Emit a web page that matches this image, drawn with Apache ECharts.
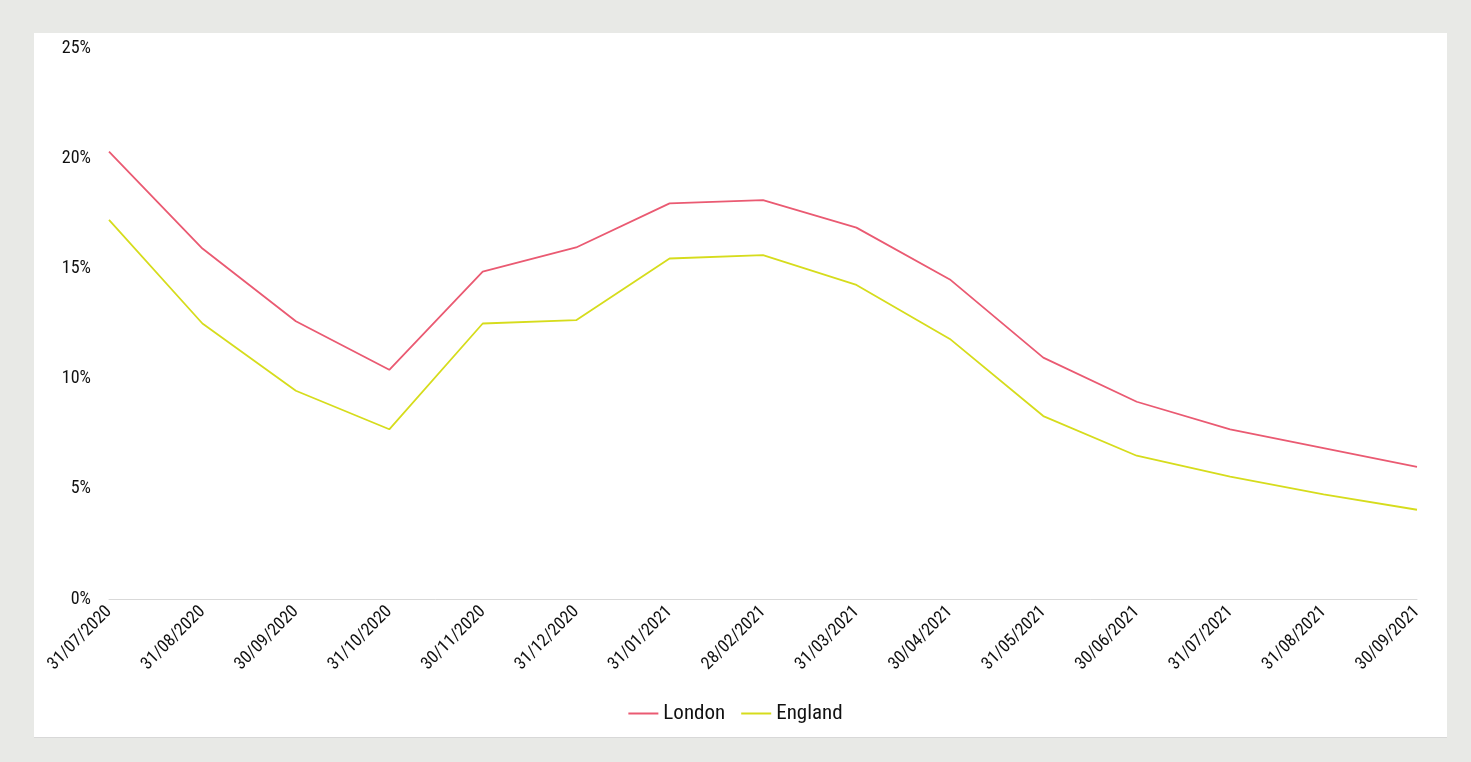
<!DOCTYPE html>
<html><head><meta charset="utf-8">
<script src="https://cdn.jsdelivr.net/npm/echarts@6/dist/echarts.min.js"></script>
<style>
html,body{margin:0;padding:0;background:#e8e9e6;width:1471px;height:762px;overflow:hidden}
#panel{position:absolute;left:34px;top:33px;width:1413px;height:704px;background:#fff;border-bottom:1px solid #d8d8d8}
#c{position:absolute;left:0;top:0;width:1471px;height:762px}
</style></head><body>
<div id="panel"></div>
<div id="c"></div>
<script>
const categories = ["31/07/2020","31/08/2020","30/09/2020","31/10/2020","30/11/2020","31/12/2020","31/01/2021","28/02/2021","31/03/2021","30/04/2021","31/05/2021","30/06/2021","31/07/2021","31/08/2021","30/09/2021"];
const london = [20.3,15.9,12.6,10.4,14.85,15.95,17.95,18.1,16.85,14.5,10.95,8.95,7.7,6.85,6.0];
const england = [17.2,12.5,9.45,7.7,12.5,12.65,15.45,15.6,14.25,11.8,8.3,6.5,5.55,4.75,4.05];
const yTicks = [0,5,10,15,20,25];

const font = '"Liberation Sans Narrow","Roboto Condensed",Roboto,sans-serif';
const chart = echarts.init(document.getElementById('c'), null, {renderer:'canvas'});
chart.setOption({
  backgroundColor:'transparent',
  animation:false,
  grid:{left:109,right:54,top:48,bottom:163,containLabel:false},
  legend:{
    bottom:33,left:'center',itemWidth:30,itemHeight:2,itemGap:16,
    icon:'rect',
    textStyle:{fontFamily:font,fontSize:21,color:'#111'},
    data:['London','England']
  },
  xAxis:{
    type:'category',data:categories,boundaryGap:false,
    axisLine:{lineStyle:{color:'#d9d9d9',width:1}},
    axisTick:{show:false},
    axisLabel:{rotate:45,fontFamily:font,fontSize:17.5,color:'#111',margin:10,interval:0}
  },
  yAxis:{
    type:'value',min:yTicks[0],max:yTicks[yTicks.length-1],interval:5,
    axisLine:{show:false},axisTick:{show:false},
    splitLine:{show:false},
    axisLabel:{formatter:'{value}%',fontFamily:font,fontSize:18,color:'#111',margin:18}
  },
  series:[
    {name:'London',type:'line',data:london,symbol:'none',lineStyle:{color:'#ea5a72',width:1.8},itemStyle:{color:'#ea5a72'}},
    {name:'England',type:'line',data:england,symbol:'none',lineStyle:{color:'#d6dc1c',width:1.8},itemStyle:{color:'#d6dc1c'}}
  ]
});
</script>
</body></html>
